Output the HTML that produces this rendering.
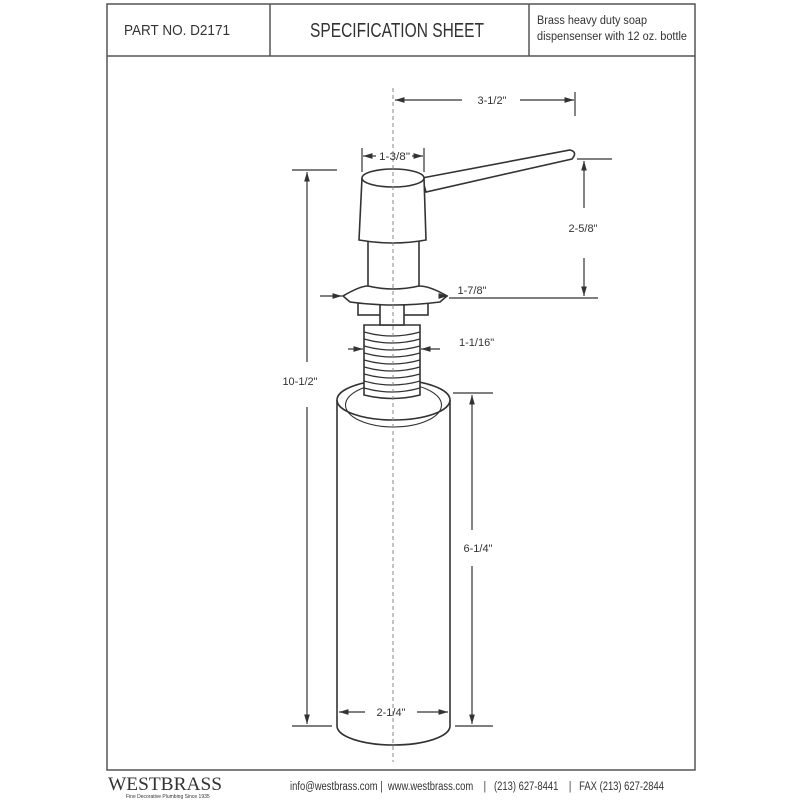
<!DOCTYPE html>
<html><head><meta charset="utf-8"><style>
body{margin:0;background:#fff}
svg{display:block}
text{font-family:"Liberation Sans",sans-serif;fill:#333}
</style></head><body>
<svg width="800" height="800" viewBox="0 0 800 800">
<defs>
<marker id="a" viewBox="0 0 10 10" refX="10" refY="5" markerWidth="8" markerHeight="8" orient="auto-start-reverse"><path d="M0,2 L10,5 L0,8 z" fill="#333"/></marker>
</defs>
<g stroke="#555" fill="none" stroke-width="1.5">
<rect x="107" y="4" width="588" height="766"/>
<line x1="107" y1="56" x2="695" y2="56"/>
<line x1="270" y1="4" x2="270" y2="56"/>
<line x1="529" y1="4" x2="529" y2="56"/>
</g>
<text x="124" y="35" font-size="15" textLength="106" lengthAdjust="spacingAndGlyphs">PART NO.  D2171</text>
<text x="310" y="37" font-size="20" textLength="174" lengthAdjust="spacingAndGlyphs">SPECIFICATION SHEET</text>
<text x="537" y="24" font-size="11.5" textLength="110" lengthAdjust="spacingAndGlyphs">Brass heavy duty soap</text>
<text x="537" y="40" font-size="11.5" textLength="150" lengthAdjust="spacingAndGlyphs">dispensenser with 12 oz. bottle</text>

<g stroke="#333" stroke-width="1.6" fill="#fff">
<!-- bottle -->
<path d="M337,400 L337,726 A56.5,19 0 0 0 450,726 L450,400"/>
<ellipse cx="393.5" cy="400" rx="56.5" ry="20"/>
<ellipse cx="393.5" cy="405" rx="48" ry="22" fill="none" stroke-width="1.1"/>
<!-- thread -->
<path d="M364,325 L364,395 Q392,402 420,395 L420,325 Z"/>
<g fill="none" stroke-width="1.2">
<path d="M364,332 Q392,340 420,332"/><path d="M364,339 Q392,347 420,339"/><path d="M364,346 Q392,354 420,346"/><path d="M364,353 Q392,361 420,353"/><path d="M364,360 Q392,368 420,360"/><path d="M364,367 Q392,375 420,367"/><path d="M364,374 Q392,382 420,374"/><path d="M364,381 Q392,389 420,381"/><path d="M364,388 Q392,396 420,388"/>
</g>
<!-- nut -->
<rect x="358" y="302" width="70" height="13"/>
<rect x="380" y="302" width="24" height="23"/>
<!-- flange -->
<path d="M343,296 Q360,286 368,286 L419,286 Q430,286 447,296 L440,302 Q393,308 350,302 Z"/>
<!-- neck -->
<path d="M368,240 L368,286 Q393,292 419,286 L419,240"/>
<!-- spout -->
<path d="M422,178 L570,150 Q578,152 572,159 L426,192 Z"/>
<!-- cap -->
<path d="M362,178 L359,240 Q393,246 426,240 L424,178"/>
<ellipse cx="393" cy="178" rx="31" ry="9"/>
</g>

<line x1="393" y1="88" x2="393" y2="762" stroke="#888" stroke-width="1" stroke-dasharray="4,3"/>

<g stroke="#333" stroke-width="1.2" fill="none">
<line x1="395" y1="100" x2="462" y2="100" marker-start="url(#a)"/>
<line x1="520" y1="100" x2="574" y2="100" marker-end="url(#a)"/>
<line x1="575" y1="92" x2="575" y2="116"/>
<line x1="362" y1="148" x2="362" y2="172"/><line x1="424" y1="148" x2="424" y2="172"/>
<line x1="363" y1="156" x2="376" y2="156" marker-start="url(#a)"/>
<line x1="412" y1="156" x2="423" y2="156" marker-end="url(#a)"/>
<line x1="577" y1="159" x2="612" y2="159"/>
<line x1="584" y1="161" x2="584" y2="208" marker-start="url(#a)"/>
<line x1="584" y1="258" x2="584" y2="296" marker-end="url(#a)"/>
<line x1="449" y1="298" x2="598" y2="298"/>
<line x1="292" y1="170" x2="337" y2="170"/>
<line x1="307" y1="172" x2="307" y2="362" marker-start="url(#a)"/>
<line x1="307" y1="407" x2="307" y2="724" marker-end="url(#a)"/>
<line x1="292" y1="726" x2="332" y2="726"/>
<line x1="320" y1="296" x2="342" y2="296" marker-end="url(#a)"/>
<line x1="448" y1="296" x2="446" y2="296" marker-start="url(#a)"/>
<line x1="348" y1="349" x2="363" y2="349" marker-end="url(#a)"/>
<line x1="421" y1="349" x2="440" y2="349" marker-start="url(#a)"/>
<line x1="453" y1="393" x2="493" y2="393"/>
<line x1="472" y1="395" x2="472" y2="530" marker-start="url(#a)"/>
<line x1="472" y1="566" x2="472" y2="724" marker-end="url(#a)"/>
<line x1="455" y1="726" x2="493" y2="726"/>
<line x1="339" y1="712" x2="365" y2="712" marker-start="url(#a)"/>
<line x1="417" y1="712" x2="448" y2="712" marker-end="url(#a)"/>
</g>
<g font-size="11">
<text x="492" y="104" text-anchor="middle">3-1/2"</text>
<text x="379" y="160" textLength="31" lengthAdjust="spacingAndGlyphs">1-3/8"</text>
<text x="583" y="232" text-anchor="middle">2-5/8"</text>
<text x="300" y="385" text-anchor="middle">10-1/2"</text>
<text x="472" y="294" text-anchor="middle">1-7/8"</text>
<text x="459" y="346">1-1/16"</text>
<text x="478" y="552" text-anchor="middle">6-1/4"</text>
<text x="391" y="716" text-anchor="middle">2-1/4"</text>
</g>

<text x="108" y="790" font-size="19" textLength="114" lengthAdjust="spacingAndGlyphs" style="font-family:'Liberation Serif',serif">WESTBRASS</text>
<text x="126" y="798" font-size="5" fill="#555">Fine Decorative Plumbing Since 1935</text>
<text x="290" y="790" font-size="11.5" textLength="374" lengthAdjust="spacingAndGlyphs" xml:space="preserve">info@westbrass.com |  www.westbrass.com    |   (213) 627-8441    |   FAX (213) 627-2844</text>
</svg>
</body></html>
